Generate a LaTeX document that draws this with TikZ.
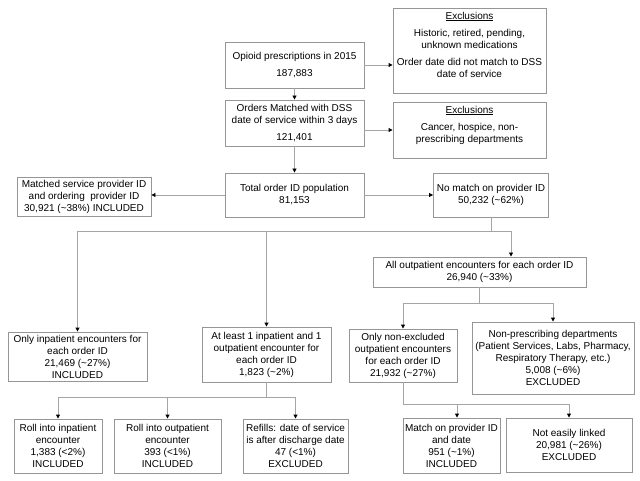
\documentclass[tikz,border=0pt]{standalone}
\usepackage{fontspec}
\setmainfont{Liberation Sans}
\usetikzlibrary{arrows.meta}
\definecolor{fcgray}{RGB}{150,150,150}
\definecolor{fcline}{RGB}{165,165,165}

\begin{document}
\begin{tikzpicture}[x=1pt,y=-1pt,line width=0.9pt,
  box/.style={draw=fcgray,align=center,inner sep=2pt,font=\fontsize{10}{12}\selectfont},
  link/.style={draw=fcline},
  arr/.style={link,-{Triangle[black,length=4pt,width=4pt]}}]
  \useasboundingbox (0,0) rectangle (640,481);
  % top column
  \node[box,minimum width=139pt,minimum height=46pt] (opioid) at (294.5,65)
    {Opioid prescriptions in 2015\\[5pt]187,883};
  \node[box,minimum width=153pt,minimum height=85pt] (excl1) at (469.5,50.5)
    {\underline{Exclusions}\\[5pt]Historic, retired, pending,\\unknown medications\\[5pt]Order date did not match to DSS\\date of service\\ \mbox{}};
  \node[box,minimum width=139pt,minimum height=46pt] (orders) at (294.5,123)
    {Orders Matched with DSS\\date of service within 3 days\\[5pt]121,401};
  \node[box,minimum width=153pt,minimum height=56pt] (excl2) at (469.5,130)
    {\underline{Exclusions}\\[5pt]Cancer, hospice, non-\\prescribing departments\\ \mbox{}};
  \node[box,minimum width=139pt,minimum height=44pt] (total) at (294.5,195)
    {Total order ID population\\81,153};
  \node[box,minimum width=134pt,minimum height=39pt] (matched) at (84,196.5)
    {Matched service provider ID\\and ordering\ \ provider ID\\30,921 (\textasciitilde38\%) INCLUDED};
  \node[box,minimum width=115pt,minimum height=44pt] (nomatch) at (491,195)
    {No match on provider ID\\50,232 (\textasciitilde62\%)};
  \node[box,minimum width=213pt,minimum height=30pt] (allout) at (479.5,272)
    {All outpatient encounters for each order ID\\26,940 (\textasciitilde33\%)};
  % middle row
  \node[box,minimum width=139pt,minimum height=49pt] (onlyin) at (77.5,356.5)
    {Only inpatient encounters for\\each order ID\\21,469 (\textasciitilde27\%)\\INCLUDED};
  \node[box,minimum width=129pt,minimum height=55pt] (atleast) at (266.5,354.5)
    {At least 1 inpatient and 1\\outpatient encounter for\\each order ID\\1,823 (\textasciitilde2\%)};
  \node[box,minimum width=108pt,minimum height=53pt] (nonexcl) at (403,355.5)
    {Only non-excluded\\outpatient encounters\\for each order ID\\21,932 (\textasciitilde27\%)};
  \node[box,minimum width=162pt,minimum height=72pt] (nonpresc) at (553,358)
    {Non-prescribing departments\\(Patient Services, Labs, Pharmacy,\\Respiratory Therapy, etc.)\\5,008 (\textasciitilde6\%)\\EXCLUDED};
  % bottom row
  \node[box,minimum width=88pt,minimum height=54pt] (rollin) at (58,446)
    {Roll into inpatient\\encounter\\1,383 (<2\%)\\INCLUDED};
  \node[box,minimum width=107pt,minimum height=54pt] (rollout) at (167.5,446)
    {Roll into outpatient\\encounter\\393 (<1\%)\\INCLUDED};
  \node[box,minimum width=105pt,minimum height=54pt] (refills) at (295.5,446)
    {Refills: date of service\\is after discharge date\\47 (<1\%)\\EXCLUDED};
  \node[box,minimum width=97pt,minimum height=55pt] (matchpd) at (451.5,445.5)
    {Match on provider ID\\and date\\951 (\textasciitilde1\%)\\INCLUDED};
  \node[box,minimum width=126pt,minimum height=54pt] (noteasy) at (569,445)
    {Not easily linked\\20,981 (\textasciitilde26\%)\\EXCLUDED};

  % connectors
  \draw[arr] (opioid) -- (orders);
  \draw[arr] (opioid.east) -- (opioid.east -| excl1.west);
  \draw[arr] (orders.east |- excl2.west) -- (excl2.west);
  \draw[arr] (orders) -- (total);
  \draw[arr] (total.west) -- (total.west -| matched.east);
  \draw[arr] (total.east) -- (total.east -| nomatch.west);

  \coordinate (j1) at (491,231);
  \draw[link] (nomatch) -- (j1);
  \draw[arr] (j1) -| (onlyin);
  \draw[arr] (j1) -| (atleast);
  \draw[arr] (j1) -| ([xshift=31.5pt]allout.north);

  \coordinate (j2) at (479.5,303);
  \draw[link] (allout) -- (j2);
  \draw[arr] (j2) -| (nonexcl);
  \draw[arr] (j2) -| (nonpresc);

  \coordinate (j3) at (266.5,397);
  \draw[link] (atleast) -- (j3);
  \draw[arr] (j3) -| (rollin);
  \draw[arr] (j3) -| (rollout);
  \draw[arr] (j3) -| (refills);

  \coordinate (j4) at (403,404);
  \draw[link] (nonexcl) -- (j4);
  \draw[arr] (j4) -| ([xshift=5.5pt]matchpd.north);
  \draw[arr] (j4) -| (noteasy);
\end{tikzpicture}
\end{document}
